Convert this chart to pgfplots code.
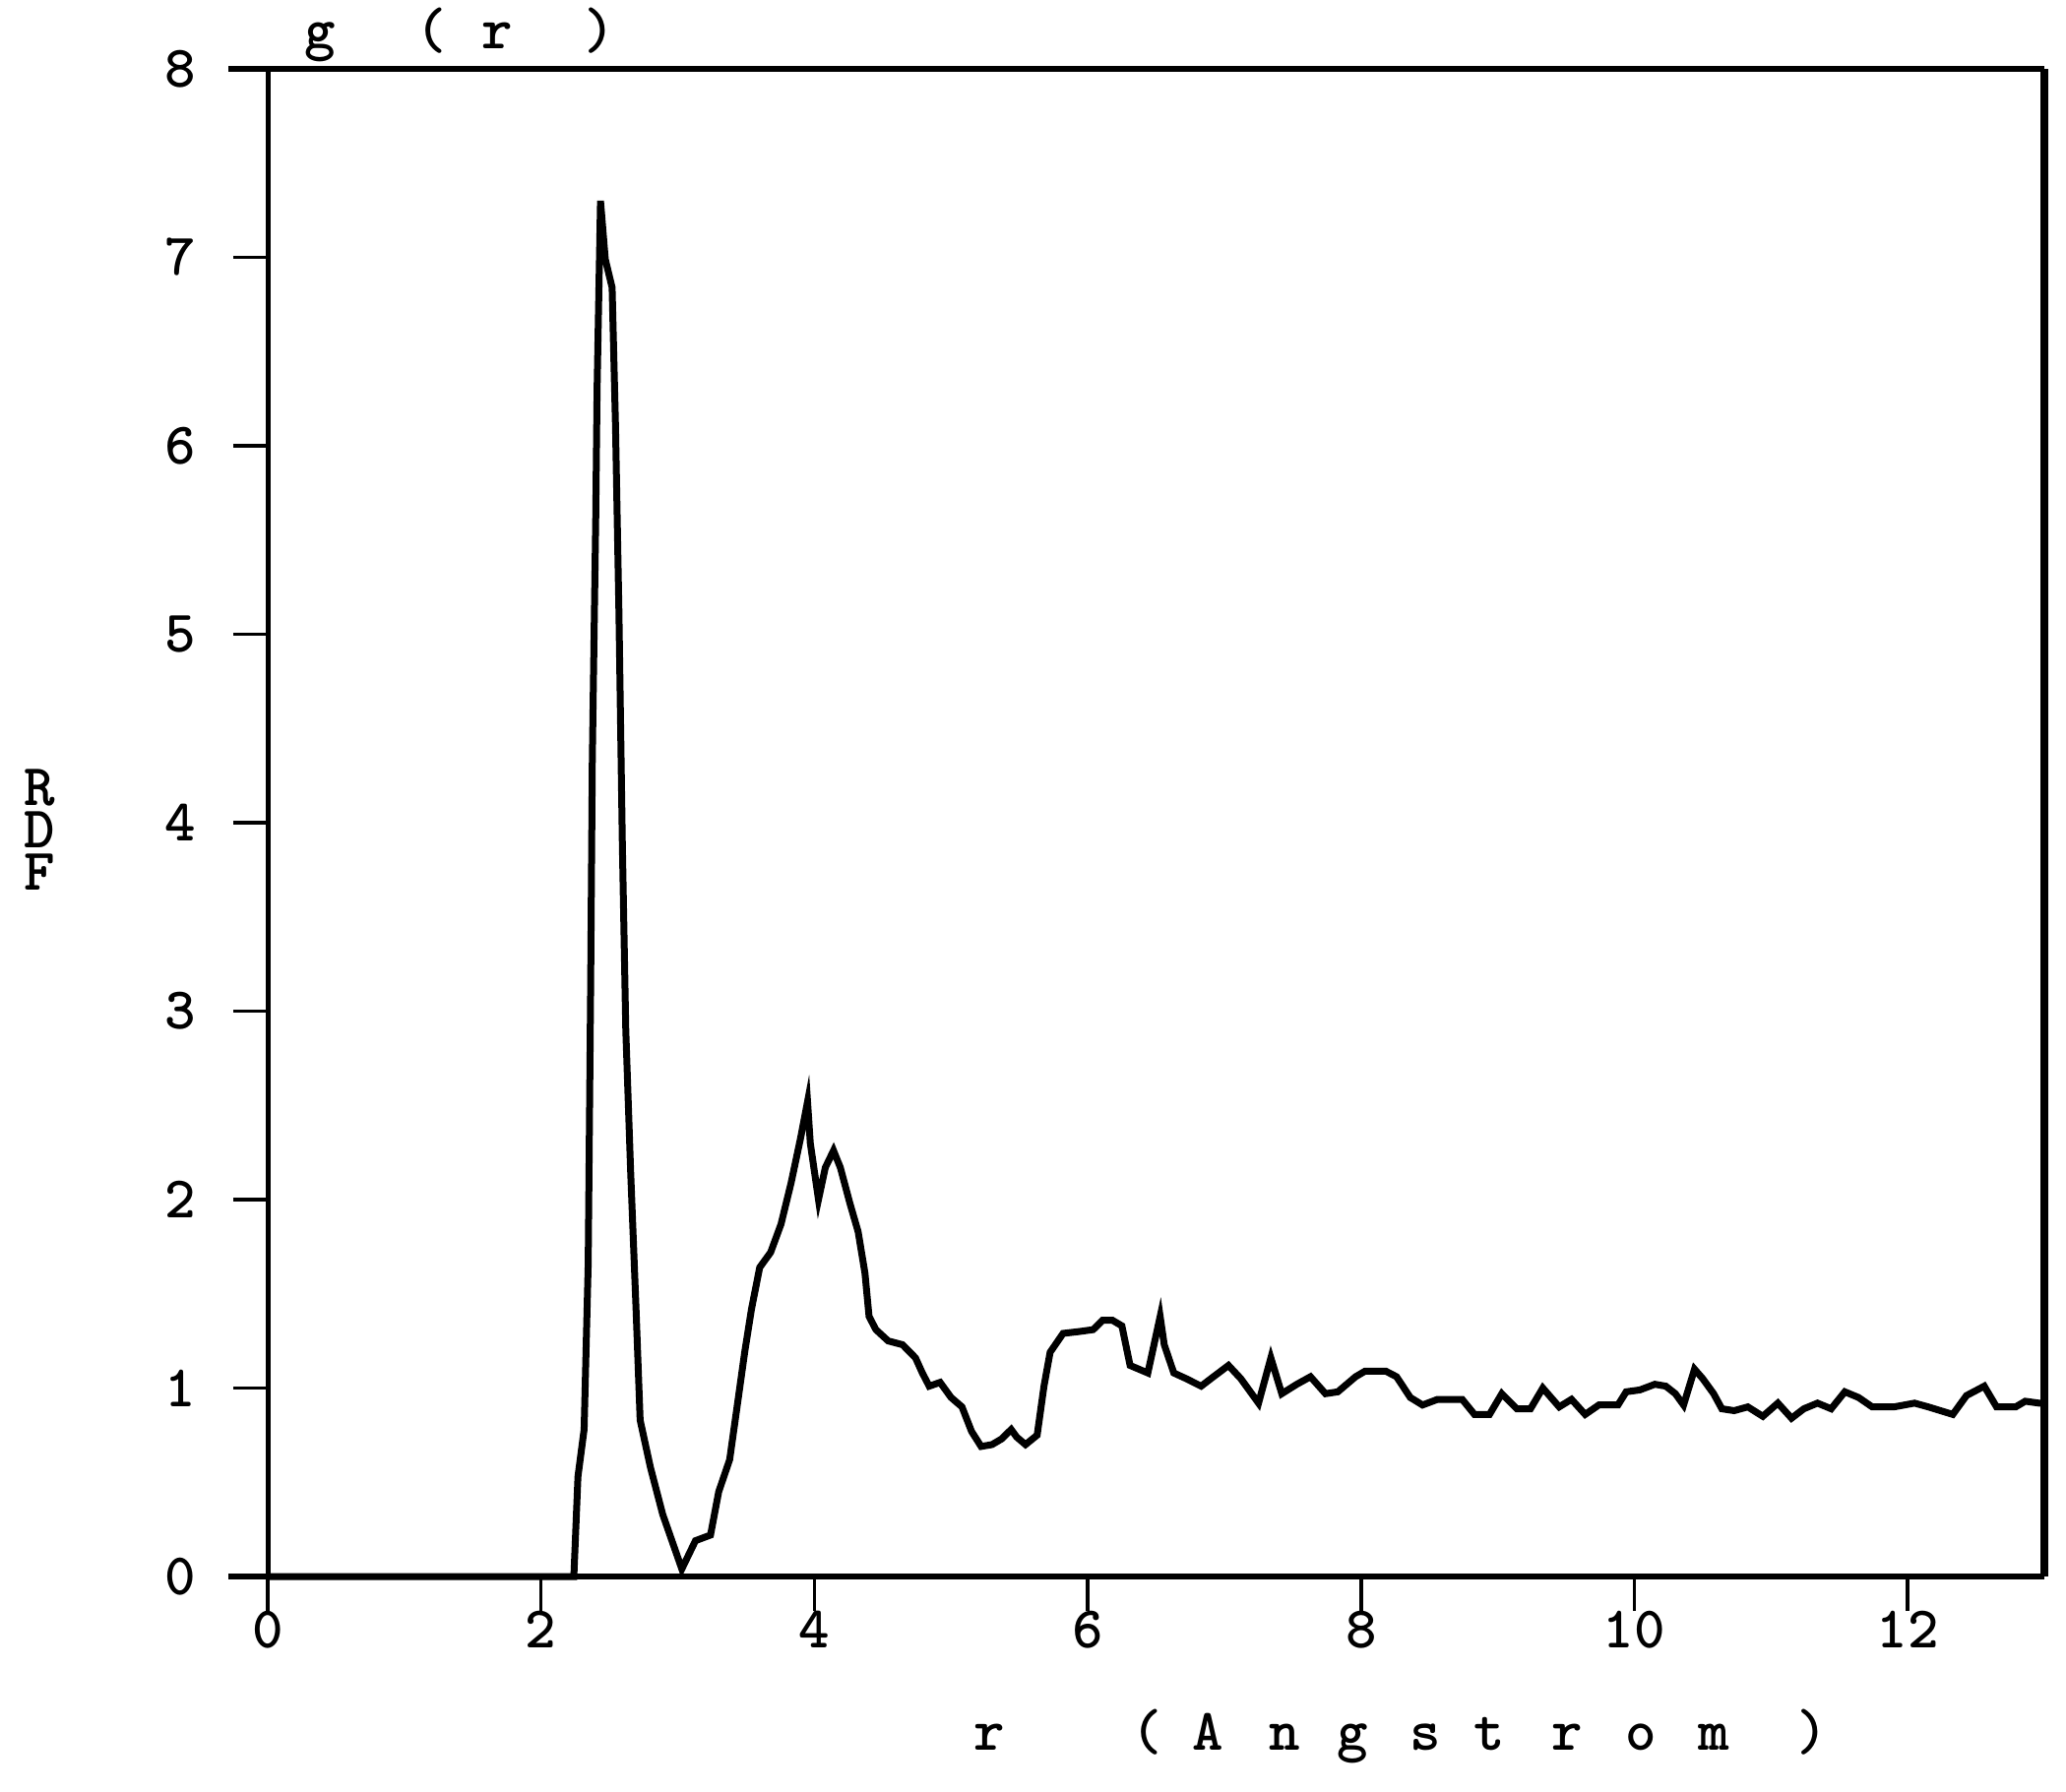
\documentclass[border=0pt]{standalone}
\usepackage{pgfplots}
\pgfplotsset{compat=1.18}

\begin{document}
\begin{tikzpicture}
\useasboundingbox (-54.4pt,-43.6pt) rectangle (365.4pt,320.4pt);
\begin{axis}[
	name=ax,
	scale only axis,
	width=361pt, height=306.4pt,
	xmin=0, xmax=13,
	ymin=0, ymax=8,
	xtick={0,2,...,12},
	ytick={0,1,...,8},
	tick align=outside,
	tick pos=left,
	major tick length=7pt,
	tick style={black, line width=0.7pt},
	axis line style={draw=none},
	clip=false,
	font=\fontsize{12}{13}\selectfont\ttfamily\bfseries,
	tick label style={font=\fontsize{12}{13}\selectfont\ttfamily\bfseries},
	/pgf/number format/assume math mode=true,
	yticklabel style={anchor=east, xshift=-4pt},
	xticklabel style={yshift=3.5pt},
	]
	% frame, the horizontal lines run past the y axis
	\draw[line width=1.3pt] (rel axis cs:0,0) ++(-8pt,0) -- (rel axis cs:1,0);
	\draw[line width=1.3pt] (rel axis cs:0,1) ++(-8pt,0) -- (rel axis cs:1,1);
	\draw[line width=1pt] (rel axis cs:0,0) -- (rel axis cs:0,1);
	\draw[line width=1.7pt] (rel axis cs:1,0) -- (rel axis cs:1,1);

	\addplot [black, line width=1.4pt, line join=miter]
	table {%
		0 0
		2.24 0
		2.27 0.53
		2.315 0.78
		2.345 1.66
		2.363 3.14
		2.375 4.33
		2.40 5.61
		2.41 6.30
		2.435 7.30
		2.47 6.99
		2.52 6.84
		2.545 6.10
		2.57 5.11
		2.595 3.88
		2.62 2.90
		2.655 2.16
		2.695 1.42
		2.725 0.83
		2.80 0.58
		2.89 0.33
		3.03 0.04
		3.13 0.19
		3.24 0.22
		3.30 0.45
		3.38 0.62
		3.44 0.93
		3.49 1.19
		3.54 1.42
		3.60 1.64
		3.68 1.72
		3.756 1.87
		3.83 2.09
		3.90 2.33
		3.95 2.52
		3.97 2.30
		4.03 2.00
		4.08 2.17
		4.14 2.26
		4.19 2.17
		4.26 1.98
		4.32 1.83
		4.37 1.61
		4.40 1.38
		4.45 1.31
		4.54 1.25
		4.645 1.23
		4.74 1.16
		4.79 1.08
		4.84 1.01
		4.92 1.03
		5.00 0.95
		5.08 0.90
		5.15 0.77
		5.22 0.69
		5.30 0.70
		5.37 0.73
		5.44 0.78
		5.48 0.74
		5.545 0.70
		5.63 0.75
		5.68 1.01
		5.725 1.19
		5.82 1.29
		5.94 1.30
		6.04 1.31
		6.11 1.36
		6.18 1.36
		6.25 1.33
		6.31 1.12
		6.44 1.08
		6.53 1.38
		6.56 1.23
		6.63 1.08
		6.72 1.05
		6.83 1.01
		6.92 1.06
		7.03 1.12
		7.12 1.05
		7.25 0.92
		7.34 1.16
		7.42 0.97
		7.53 1.02
		7.63 1.06
		7.74 0.97
		7.83 0.98
		7.96 1.06
		8.03 1.09
		8.18 1.09
		8.26 1.06
		8.36 0.95
		8.45 0.91
		8.56 0.94
		8.74 0.94
		8.83 0.86
		8.94 0.86
		9.03 0.97
		9.14 0.89
		9.24 0.89
		9.33 1.00
		9.45 0.90
		9.54 0.94
		9.64 0.86
		9.74 0.91
		9.88 0.91
		9.94 0.98
		10.04 0.99
		10.15 1.02
		10.23 1.01
		10.30 0.97
		10.36 0.91
		10.44 1.10
		10.50 1.05
		10.58 0.97
		10.64 0.89
		10.73 0.88
		10.83 0.90
		10.94 0.85
		11.05 0.92
		11.15 0.84
		11.24 0.89
		11.34 0.92
		11.44 0.89
		11.54 0.98
		11.64 0.95
		11.74 0.90
		11.90 0.90
		12.05 0.92
		12.15 0.90
		12.33 0.86
		12.43 0.96
		12.56 1.01
		12.65 0.90
		12.79 0.90
		12.86 0.93
		12.96 0.92
		13.0 0.92
	};

	% g(r) above the frame
	\node[anchor=base] at (axis cs:0.38,8) [yshift=4.2pt] {g};
	\node[anchor=base] at (axis cs:1.20,8) [yshift=4.2pt] {(};
	\node[anchor=base] at (axis cs:1.68,8) [yshift=4.2pt] {r};
	\node[anchor=base] at (axis cs:2.43,8) [yshift=4.2pt] {)};

	% RDF stacked on the left, one node
	\node[inner sep=0pt, align=center, font=\fontsize{12}{8.6}\selectfont\ttfamily\bfseries]
		at (axis cs:0,3.961) [xshift=-46.4pt] {R\\D\\F};

	% x label, spaced out
	\node[anchor=base] at (axis cs:5.28,0) [yshift=-35.2pt] {r};
	\node[anchor=base] at (axis cs:6.43,0) [yshift=-35.2pt] {(};
	\node[anchor=base] at (axis cs:6.88,0) [yshift=-35.2pt] {A};
	\node[anchor=base] at (axis cs:7.44,0) [yshift=-35.2pt] {n};
	\node[anchor=base] at (axis cs:7.94,0) [yshift=-35.2pt] {g};
	\node[anchor=base] at (axis cs:8.47,0) [yshift=-35.2pt] {s};
	\node[anchor=base] at (axis cs:8.94,0) [yshift=-35.2pt] {t};
	\node[anchor=base] at (axis cs:9.51,0) [yshift=-35.2pt] {r};
	\node[anchor=base] at (axis cs:10.05,0) [yshift=-35.2pt] {o};
	\node[anchor=base] at (axis cs:10.58,0) [yshift=-35.2pt] {m};
	\node[anchor=base] at (axis cs:11.30,0) [yshift=-35.2pt] {)};
\end{axis}
\end{tikzpicture}
\end{document}
